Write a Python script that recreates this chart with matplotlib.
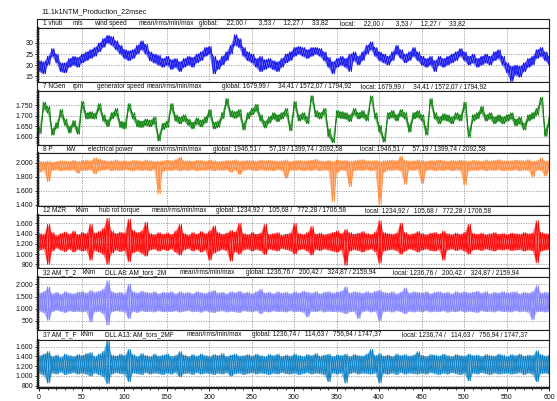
import numpy as np
import matplotlib
matplotlib.use("Agg")
import matplotlib.pyplot as plt
from matplotlib.ticker import FuncFormatter, AutoMinorLocator, FixedLocator

plt.rcParams['font.family'] = ['Liberation Sans', 'DejaVu Sans']

# sample spacing of the envelope values [s]
time_step = 5.0
title = "11.1k1NTM_Production_22msec"
x_ticks = [0, 50, 100, 150, 200, 250, 300, 350, 400, 450, 500, 550, 600]

# ---- 1 vhub: wind speed [m/s], upper / lower envelope per 5 s ----
vhub_hi = [22, 21.5, 24, 27.5, 25, 21, 21, 23, 24, 23.5,
           25, 26, 27, 28, 30, 32, 33.5, 33, 31, 29,
           27, 26.5, 27, 29, 31, 29.5, 26, 25, 24.5, 23,
           24, 22.5, 23, 21.5, 23, 24, 23.5, 25, 26, 28,
           28.5, 24, 22, 24, 26, 29, 33.8, 32, 28, 26,
           25, 23, 24, 22.5, 23, 22, 21.5, 23, 25, 26,
           28, 28.5, 28, 27, 28, 28, 27.5, 26, 23.5, 21.5,
           23, 24, 23, 25, 26, 24, 26, 29, 30.5, 28,
           26, 25, 24, 26, 29, 27, 25, 26, 28, 26,
           24, 23, 24, 22, 24, 23, 24, 25, 26, 27.5,
           26, 24, 25, 23, 24, 25, 24, 26, 27, 24,
           21, 19.5, 20, 19.5, 21, 23, 24, 27, 28, 26,
           24]
vhub_lo = [17, 16, 20, 24, 21, 17, 16.5, 19, 20, 19,
           21, 22, 23, 24, 26, 28, 30, 29, 27, 25,
           23, 22, 23, 25, 27, 25, 22, 21, 20, 19,
           20, 18, 19, 17, 19, 20, 19, 21, 22, 24,
           25, 16, 18, 20, 22, 25, 29, 28, 24, 22,
           21, 19, 17, 18, 19, 18, 17, 19, 21, 22,
           24, 25, 24, 23, 24, 25, 24, 22, 19, 16,
           19, 20, 19, 17, 22, 20, 22, 25, 27, 24,
           22, 21, 20, 22, 25, 23, 21, 22, 24, 22,
           20, 19, 20, 17, 20, 19, 20, 21, 22, 24,
           22, 20, 21, 19, 20, 21, 20, 22, 23, 20,
           16.5, 12.5, 15.5, 14.5, 17, 19, 20, 23, 24, 22,
           20]
vhub_ticks = [15, 20, 25, 30]
vhub_stats = ["22,00", "3,53", "12,27", "33,82"]

# ---- 7 NGen: generator speed [rpm] ----
ngen_hi = [1645, 1765, 1745, 1640, 1668, 1730, 1685, 1650, 1678, 1645,
           1768, 1715, 1720, 1712, 1758, 1705, 1680, 1715, 1735, 1675,
           1670, 1758, 1715, 1680, 1675, 1685, 1680, 1695, 1612, 1665,
           1675, 1758, 1705, 1695, 1705, 1685, 1670, 1690, 1680, 1695,
           1730, 1670, 1675, 1715, 1782, 1725, 1720, 1730, 1665, 1715,
           1735, 1755, 1705, 1675, 1695, 1715, 1705, 1715, 1735, 1660,
           1768, 1705, 1715, 1695, 1795, 1725, 1715, 1735, 1640, 1595,
           1725, 1720, 1715, 1705, 1735, 1715, 1725, 1705, 1794, 1715,
           1655, 1600, 1715, 1725, 1705, 1730, 1715, 1658, 1715, 1725,
           1705, 1642, 1782, 1715, 1695, 1710, 1705, 1695, 1715, 1705,
           1765, 1632, 1705, 1715, 1745, 1705, 1715, 1695, 1705, 1695,
           1705, 1715, 1685, 1695, 1665, 1705, 1715, 1735, 1788, 1638,
           1695]
ngen_lo = [1615, 1732, 1712, 1608, 1640, 1698, 1655, 1618, 1650, 1612,
           1738, 1685, 1688, 1685, 1728, 1675, 1648, 1685, 1702, 1645,
           1638, 1728, 1685, 1648, 1645, 1655, 1648, 1662, 1580, 1635,
           1645, 1728, 1675, 1662, 1675, 1655, 1638, 1660, 1648, 1665,
           1698, 1638, 1645, 1685, 1752, 1695, 1688, 1698, 1632, 1685,
           1705, 1722, 1675, 1642, 1665, 1685, 1672, 1685, 1702, 1628,
           1738, 1675, 1685, 1662, 1770, 1695, 1685, 1705, 1600, 1572,
           1692, 1688, 1685, 1672, 1705, 1685, 1692, 1675, 1770, 1685,
           1622, 1575, 1685, 1692, 1675, 1698, 1685, 1622, 1685, 1692,
           1675, 1608, 1752, 1685, 1662, 1680, 1675, 1662, 1685, 1675,
           1732, 1598, 1675, 1685, 1712, 1675, 1685, 1662, 1675, 1662,
           1675, 1685, 1652, 1662, 1632, 1675, 1685, 1702, 1758, 1602,
           1662]
ngen_ticks = [1600, 1650, 1700, 1750]
ngen_stats = ["1679,99", "34,41", "1572,07", "1794,92"]

# ---- 8 P: electrical power [kW] ----
power_hi = [2020, 2015, 2025, 2010, 2020, 2030, 2025, 2020, 2035, 2020,
            2030, 2040, 2030, 2070, 2050, 2035, 2025, 2030, 2040, 2025,
            2030, 2020, 2035, 2030, 2025, 2040, 2030, 2020, 2025, 2030,
            2035, 2030, 2045, 2080, 2030, 2030, 2025, 2035, 2030, 2025,
            2040, 2030, 2020, 2025, 2035, 2030, 2040, 2025, 2030, 2035,
            2030, 2025, 2040, 2030, 2035, 2030, 2025, 2030, 2040, 2020,
            2030, 2035, 2025, 2030, 2040, 2050, 2030, 2025, 2035, 2020,
            2040, 2030, 2035, 2025, 2030, 2040, 2045, 2030, 2025, 2035,
            2020, 2030, 2035, 2040, 2030, 2092, 2035, 2025, 2030, 2040,
            2030, 2025, 2035, 2030, 2040, 2030, 2025, 2035, 2030, 2040,
            2030, 2020, 2035, 2030, 2025, 2040, 2030, 2035, 2045, 2030,
            2025, 2030, 2040, 2035, 2030, 2045, 2025, 2030, 2065, 2025,
            2030]
power_lo = [1865, 1895, 1730, 1890, 1900, 1885, 1895, 1890, 1900, 1850,
            1895, 1890, 1900, 1840, 1890, 1895, 1905, 1885, 1895, 1890,
            1900, 1895, 1885, 1900, 1890, 1895, 1885, 1900, 1553, 1875,
            1895, 1890, 1900, 1885, 1895, 1890, 1900, 1885, 1895, 1890,
            1900, 1885, 1895, 1890, 1900, 1865, 1895, 1830, 1890, 1900,
            1895, 1885, 1900, 1890, 1895, 1885, 1900, 1890, 1780, 1895,
            1890, 1900, 1885, 1895, 1890, 1900, 1885, 1895, 1890, 1443,
            1865, 1895, 1890, 1657, 1885, 1895, 1890, 1900, 1885, 1895,
            1400, 1865, 1895, 1890, 1900, 1885, 1690, 1895, 1890, 1900,
            1705, 1890, 1900, 1885, 1895, 1890, 1900, 1885, 1895, 1890,
            1681, 1885, 1895, 1890, 1900, 1885, 1895, 1890, 1900, 1885,
            1895, 1890, 1900, 1885, 1895, 1890, 1800, 1895, 1890, 1810,
            1890]
power_ticks = [1400, 1600, 1800, 2000]
power_stats = ["1946,51", "57,19", "1399,74", "2092,58"]

# ---- 12 MZR: hub rot torque [kNm] ----
mzr_hi = [1400, 1380, 1580, 1420, 1360, 1400, 1430, 1390, 1450, 1380,
          1420, 1400, 1580, 1410, 1440, 1500, 1700, 1450, 1400, 1430,
          1410, 1680, 1460, 1420, 1450, 1620, 1400, 1380, 1420, 1390,
          1410, 1380, 1450, 1580, 1400, 1370, 1420, 1390, 1440, 1400,
          1450, 1550, 1420, 1390, 1410, 1460, 1430, 1600, 1400, 1380,
          1420, 1390, 1410, 1580, 1380, 1400, 1420, 1370, 1390, 1410,
          1600, 1400, 1380, 1420, 1540, 1390, 1410, 1380, 1400, 1420,
          1450, 1400, 1480, 1420, 1390, 1410, 1440, 1400, 1380, 1430,
          1650, 1420, 1400, 1390, 1410, 1600, 1420, 1380, 1400, 1440,
          1400, 1380, 1410, 1420, 1390, 1450, 1400, 1380, 1410, 1390,
          1420, 1580, 1400, 1390, 1410, 1380, 1400, 1420, 1390, 1400,
          1380, 1410, 1400, 1390, 1420, 1400, 1410, 1650, 1420, 1400,
          1390]
mzr_lo = [1080, 1100, 800, 1060, 1120, 1080, 1050, 1100, 1040, 1090,
          1060, 1080, 880, 1070, 1040, 1000, 800, 1020, 1080, 1050,
          1070, 850, 1030, 1060, 1020, 960, 1080, 1100, 1060, 1090,
          1070, 1100, 1040, 980, 1080, 1110, 1060, 1090, 1040, 1080,
          880, 1020, 1060, 1090, 1070, 860, 1050, 1000, 1080, 1100,
          1060, 1090, 1070, 990, 1100, 1080, 1060, 1110, 1090, 1070,
          1000, 1080, 1100, 1060, 980, 1090, 1070, 1100, 1080, 1060,
          1040, 1080, 780, 1060, 1090, 1070, 1040, 1080, 1100, 1050,
          820, 1060, 1080, 1090, 1070, 1000, 1060, 1100, 1080, 1040,
          1080, 1100, 1070, 1060, 1090, 880, 1080, 1100, 1070, 1090,
          1060, 1000, 1080, 1090, 1070, 1100, 1080, 1060, 1090, 1080,
          1100, 1070, 1080, 1090, 1060, 1080, 1070, 830, 1060, 1080,
          1090]
mzr_ticks = [800, 1000, 1200, 1400, 1600]
mzr_stats = ["1234,92", "105,68", "772,28", "1706,58"]

# ---- 32 AM_T_2: DLL A8 AM_tors_2M [kNm] ----
amt2_hi = [1650, 1700, 1900, 1620, 1680, 1600, 1700, 1650, 1620, 1680,
           1700, 1650, 1750, 1680, 1720, 1800, 2150, 1700, 1650, 1680,
           1620, 2000, 1700, 1650, 1720, 1680, 1650, 1700, 1620, 1680,
           1650, 1700, 1620, 1700, 1650, 1680, 1620, 1700, 1660, 1640,
           1700, 1750, 1650, 1680, 1620, 1700, 1660, 1720, 1650, 1680,
           1620, 1700, 1800, 1650, 1680, 1620, 1700, 1650, 1680, 1620,
           1700, 1650, 1720, 1680, 1650, 1700, 1620, 1680, 1700, 1650,
           1680, 1720, 1900, 1650, 1700, 1680, 1640, 1700, 1650, 1720,
           1750, 1680, 1650, 1700, 1620, 1680, 1850, 1650, 1700, 1680,
           1650, 1700, 1620, 1680, 1700, 1650, 1680, 1620, 1700, 1660,
           1700, 1650, 1680, 1720, 1650, 1700, 1620, 1680, 1650, 1700,
           1650, 1680, 1700, 1620, 1680, 1650, 1700, 1950, 1650, 1680,
           1650]
amt2_lo = [900, 850, 530, 880, 950, 900, 850, 920, 880, 900,
           880, 900, 460, 870, 900, 800, 330, 880, 920, 900,
           880, 600, 900, 850, 920, 880, 900, 870, 920, 880,
           900, 880, 920, 870, 900, 930, 880, 900, 860, 920,
           880, 850, 900, 920, 870, 900, 880, 850, 920, 900,
           880, 920, 800, 900, 870, 920, 880, 900, 870, 920,
           880, 900, 870, 670, 900, 880, 920, 870, 900, 880,
           900, 870, 800, 880, 900, 600, 880, 920, 870, 900,
           510, 880, 900, 870, 920, 880, 800, 900, 870, 900,
           880, 920, 870, 900, 880, 920, 860, 900, 880, 920,
           870, 900, 880, 850, 920, 880, 900, 870, 920, 880,
           900, 870, 920, 880, 900, 870, 550, 880, 900, 870,
           900]
amt2_ticks = [500, 1000, 1500, 2000]
amt2_stats = ["1236,76", "200,42", "324,87", "2159,94"]

# ---- 37 AM_T_F: DLL A13 AM_tors_2MF [kNm] ----
amtf_hi = [1420, 1450, 1500, 1400, 1430, 1380, 1450, 1420, 1400, 1440,
           1420, 1460, 1480, 1400, 1450, 1500, 1747, 1430, 1410, 1450,
           1420, 1550, 1440, 1400, 1460, 1420, 1400, 1450, 1410, 1430,
           1450, 1400, 1420, 1500, 1430, 1400, 1440, 1410, 1450, 1420,
           1400, 1440, 1420, 1460, 1400, 1430, 1450, 1410, 1420, 1440,
           1410, 1450, 1420, 1400, 1440, 1420, 1450, 1400, 1430, 1410,
           1450, 1420, 1400, 1440, 1420, 1460, 1410, 1430, 1450, 1400,
           1430, 1420, 1450, 1400, 1440, 1420, 1410, 1450, 1550, 1420,
           1460, 1410, 1430, 1400, 1450, 1420, 1440, 1410, 1430, 1500,
           1420, 1400, 1440, 1430, 1410, 1450, 1420, 1400, 1440, 1420,
           1410, 1450, 1420, 1430, 1400, 1440, 1420, 1410, 1450, 1430,
           1400, 1440, 1420, 1450, 1410, 1430, 1420, 1520, 1440, 1410,
           1430]
amtf_lo = [1050, 1020, 855, 1060, 1040, 1080, 1030, 1050, 1070, 1040,
           1060, 1040, 1000, 1060, 1030, 990, 835, 1040, 1070, 1050,
           1040, 880, 1060, 1050, 1030, 1070, 1040, 1060, 1050, 1030,
           1060, 1040, 1070, 980, 1050, 1060, 1030, 1070, 1040, 1060,
           1050, 1030, 1060, 1040, 1070, 1000, 1050, 1060, 1030, 1050,
           1070, 1040, 1060, 1050, 1030, 1060, 1040, 1070, 1050, 1040,
           1060, 1030, 1050, 1070, 1040, 1060, 1050, 1030, 880, 1060,
           1040, 1060, 855, 1050, 1070, 1040, 1060, 1050, 1040, 1060,
           855, 1050, 1040, 1060, 1030, 1070, 1040, 1060, 1050, 1040,
           1060, 1040, 1070, 1050, 1030, 1060, 1040, 1070, 1050, 1030,
           1050, 900, 1060, 1040, 1070, 1050, 1030, 1060, 1040, 1050,
           1060, 1040, 1050, 1070, 1030, 1060, 1040, 880, 1050, 1060,
           1040]
amtf_ticks = [800, 1000, 1200, 1400, 1600]
amtf_stats = ["1236,74", "114,63", "756,94", "1747,37"]

# ---- header fields: (x position in px, text) ----
head_vhub = [(42.7, "1 vhub"), (72.7, "m/s"), (94.3, "wind speed"), (138.3, "mean/rms/min/max")]
head_ngen = [(42.7, "7 NGen"), (72.7, "rpm"), (96.7, "generator speed"), (146.7, "mean/rms/min/max")]
head_power = [(42.7, "8 P"), (66.7, "kW"), (88.3, "electrical power"), (146.7, "mean/rms/min/max")]
head_mzr = [(42.7, "12 MZR"), (76, "kNm"), (99, "hub rot torque"), (151.7, "mean/rms/min/max")]
head_amt2 = [(42.7, "32 AM_T_2"), (82.7, "kNm"), (105, "DLL A8: AM_tors_2M"), (180, "mean/rms/min/max")]
head_amtf = [(42.7, "37 AM_T_F"), (81, "kNm"), (105, "DLL A13: AM_tors_2MF"), (186.7, "mean/rms/min/max")]

W, H = 557, 401
fig = plt.figure(figsize=(W / 100, H / 100), dpi=100)
fig.patch.set_facecolor("white")

LEFT, RIGHT = 38, 549
TXT = "#111111"
FS = 4.7

panels = [
    dict(head=head_vhub, stats=vhub_stats, gl=(199, 340), hbox=(19, 28), box=(28, 82),
         hi=vhub_hi, lo=vhub_lo, color="#1010ee", ylim=(12.3, 36.8), ticks=vhub_ticks),
    dict(head=head_ngen, stats=ngen_stats, gl=(221.7, 360.7), hbox=(82, 91), box=(91, 145),
         hi=ngen_hi, lo=ngen_lo, color="#0a800a", ylim=(1562, 1817), ticks=ngen_ticks),
    dict(head=head_power, stats=power_stats, gl=(213, 360), hbox=(145, 153), box=(153, 206),
         hi=power_hi, lo=power_lo, color="#ff8a3d", ylim=(1381, 2139), ticks=power_ticks),
    dict(head=head_mzr, stats=mzr_stats, gl=(216, 365), hbox=(206, 215), box=(215, 268),
         hi=mzr_hi, lo=mzr_lo, color="#ff0000", ylim=(728, 1762), ticks=mzr_ticks),
    dict(head=head_amt2, stats=amt2_stats, gl=(246, 393.3), hbox=(268, 277), box=(277, 330),
         hi=amt2_hi, lo=amt2_lo, color="#7f7fff", ylim=(131, 2299), ticks=amt2_ticks),
    dict(head=head_amtf, stats=amtf_stats, gl=(251.7, 401.7), hbox=(330, 340), box=(340, 388),
         hi=amtf_hi, lo=amtf_lo, color="#0a7ec2", ylim=(753, 1737), ticks=amtf_ticks),
]


def thousands(v, _pos):
    return f"{int(round(v)):,}".replace(",", ".")


def stat_group(label, values):
    # numbers right-aligned in 7-character columns (two spaces per missing digit)
    cols = [" " * (2 * (7 - len(s))) + s for s in values]
    return label + " " + " / ".join(cols)


fig.text(41 / W, 1 - 12 / H, title, fontsize=5.2, color=TXT, va="center", ha="left")

for i, p in enumerate(panels):
    # header box
    h0, h1 = p["hbox"]
    yc = 1 - (h0 + h1) / 2 / H
    hax = fig.add_axes([(LEFT - 1) / W, 1 - h1 / H, (RIGHT - LEFT + 1) / W, (h1 - h0) / H])
    hax.set_xticks([])
    hax.set_yticks([])
    for s in hax.spines.values():
        s.set_linewidth(0.8)
        s.set_color("#202020")
    for xpx, txt in p["head"]:
        fig.text(xpx / W, yc, txt, fontsize=FS, color=TXT, va="center", ha="left")
    gx, lx = p["gl"]
    fig.text(gx / W, yc, stat_group("global:", p["stats"]), fontsize=FS, color=TXT,
             va="center", ha="left")
    fig.text(lx / W, yc, stat_group("local:", p["stats"]), fontsize=FS, color=TXT,
             va="center", ha="left")

    # signal axes
    b0, b1 = p["box"]
    ax = fig.add_axes([LEFT / W, 1 - b1 / H, (RIGHT - LEFT) / W, (b1 - b0) / H])
    hi = np.asarray(p["hi"], dtype=float)
    lo = np.asarray(p["lo"], dtype=float)
    t = np.arange(len(hi)) * time_step
    half = time_step / 2
    # two interleaved zig-zags through the upper and lower envelope values
    tz = np.empty(2 * len(t))
    tz[0::2] = t
    tz[1::2] = t + half
    za = np.empty(2 * len(t))
    za[0::2] = hi
    za[1::2] = lo
    zb = np.empty(2 * len(t))
    zb[0::2] = lo
    zb[1::2] = hi
    ax.fill_between(t, lo, hi, color=p["color"], alpha=0.55, lw=0)
    ax.plot(tz, za, color=p["color"], lw=0.6)
    ax.plot(tz, zb, color=p["color"], lw=0.6)

    ax.set_xlim(-1.2, 600)
    ax.set_ylim(*p["ylim"])
    ax.yaxis.set_major_locator(FixedLocator(p["ticks"]))
    ax.yaxis.set_major_formatter(FuncFormatter(thousands))
    ax.yaxis.set_minor_locator(AutoMinorLocator(5))
    ax.xaxis.set_major_locator(FixedLocator(x_ticks))
    ax.xaxis.set_minor_locator(AutoMinorLocator(5))
    ax.grid(True, which="major", color="#9a9a9a", lw=0.6, linestyle=(0, (1.5, 1.5)))
    ax.set_axisbelow(True)
    ax.tick_params(axis="y", which="major", labelsize=5.0, labelcolor=TXT, length=2,
                   width=0.6, pad=1.5, direction="out")
    ax.tick_params(axis="y", which="minor", length=1.2, width=0.5, direction="out")
    for s in ax.spines.values():
        s.set_linewidth(0.8)
        s.set_color("#202020")
    ax.spines["left"].set_linewidth(1.6)
    if i == len(panels) - 1:
        ax.spines["bottom"].set_linewidth(1.6)
        ax.tick_params(axis="x", which="major", labelsize=5.0, labelcolor=TXT, length=2,
                       width=0.6, pad=2, direction="out")
        ax.tick_params(axis="x", which="minor", length=1.2, width=0.5, direction="out")
        ax.xaxis.set_major_formatter(FuncFormatter(lambda v, _p: f"{int(v)}"))
    else:
        ax.tick_params(axis="x", which="both", length=0, labelbottom=False)

fig.savefig("out.png", dpi=100, facecolor="white")
